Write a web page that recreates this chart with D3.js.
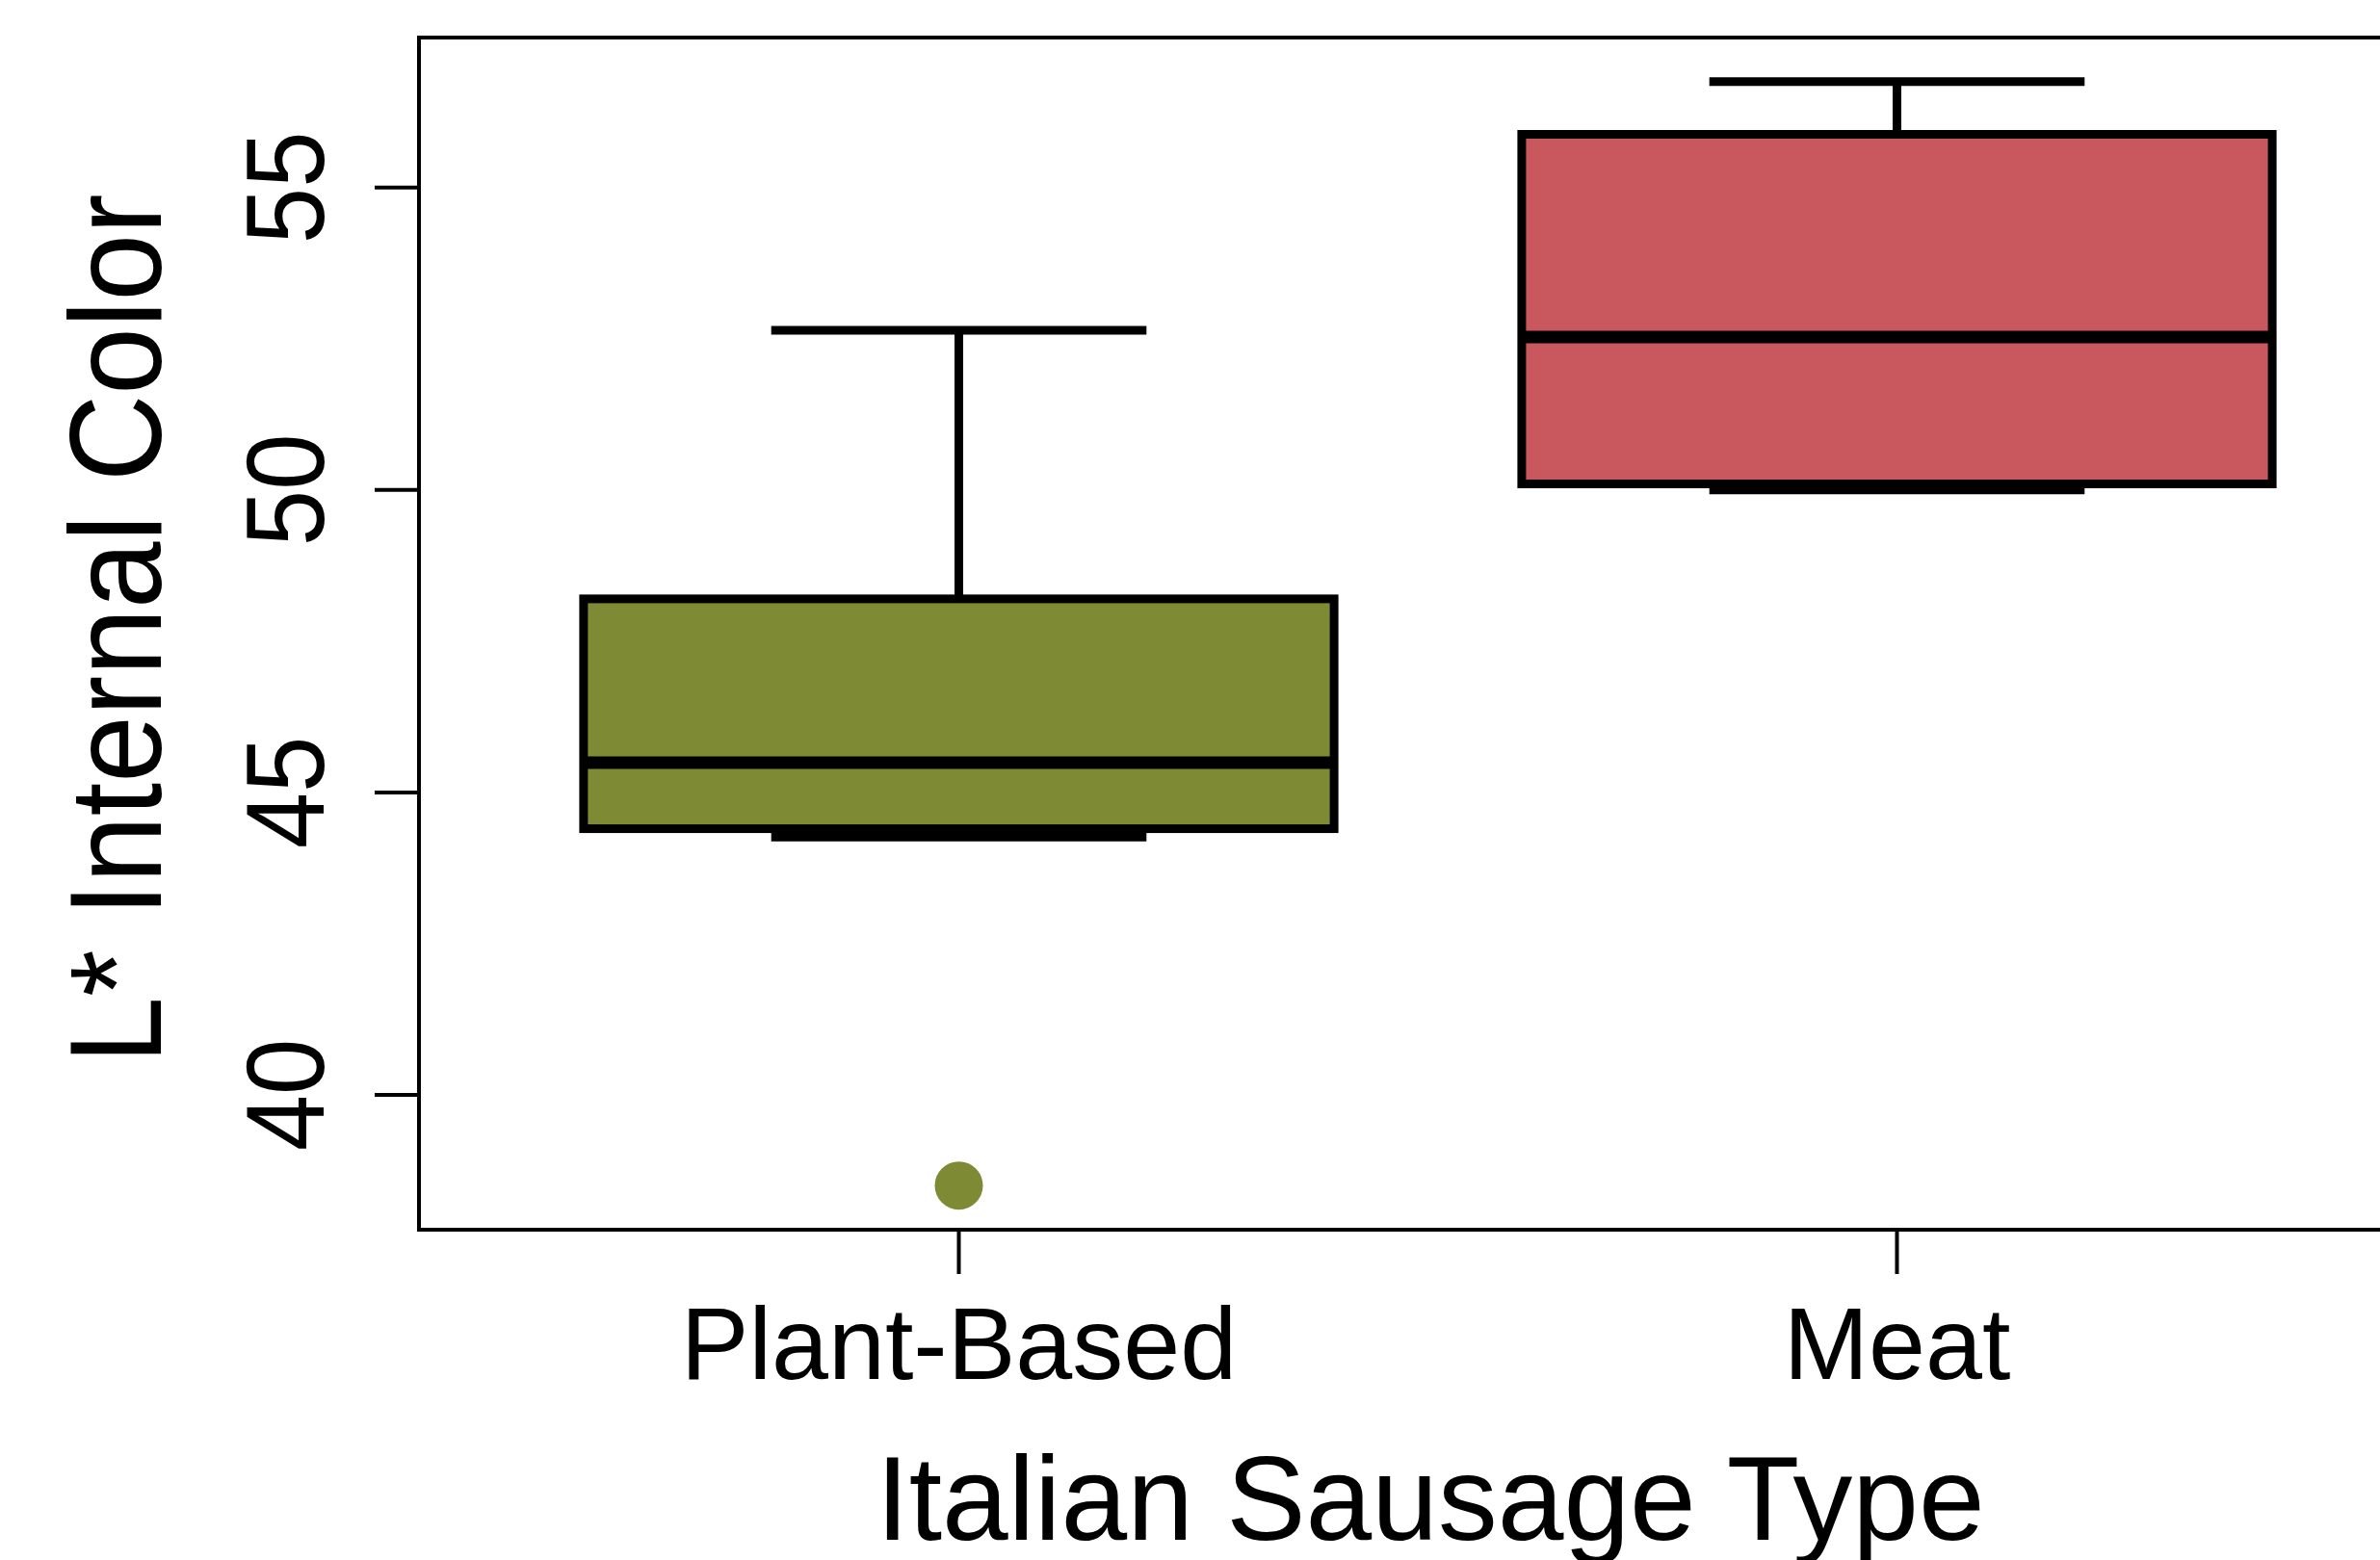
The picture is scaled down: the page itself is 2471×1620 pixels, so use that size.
<!DOCTYPE html>
<html>
<head>
<meta charset="utf-8">
<script src="https://cdn.jsdelivr.net/npm/d3@7"></script>
<style>
  html, body { margin: 0; padding: 0; background: #fff; }
  svg { display: block; }
  text { font-family: "Liberation Sans", Arial, sans-serif; fill: #000; }
</style>
</head>
<body>
<div id="main"></div>
<script>
// data
var categories = ["Plant-Based", "Meat"];
var lowerWhisker = [44.26, 50.0];
var q1 = [44.40, 50.10];
var medians = [45.49, 52.53];
var q3 = [48.20, 55.88];
var upperWhisker = [52.64, 56.75];
var outliers = [[38.5], []];
var yTicks = [40, 45, 50, 55];
var xTitle = "Italian Sausage Type";
var yTitle = "L* Internal Color";

var CONFIG = {
  width: 2471,
  height: 1620,
  plot: { left: 435, top: 39, right: 2535, bottom: 1277 },
  fills: ["#7F8B34", "#C8585E"],
  boxWex: 0.8,
  stapleWex: 0.5,
  lineW: 9,
  medW: 13,
  frameW: 4,
  tickLen: 46
};

var data = categories.map((c, i) => ({
  name: c,
  lo: lowerWhisker[i],
  q1: q1[i],
  med: medians[i],
  q3: q3[i],
  hi: upperWhisker[i],
  out: outliers[i],
  fill: CONFIG.fills[i]
}));

// R style axis range: data extremes + 4% on each side
var allVals = [];
data.forEach(d => { allVals.push(d.lo, d.hi); d.out.forEach(o => allVals.push(o)); });
var yMin = d3.min(allVals), yMax = d3.max(allVals);
var pad = (yMax - yMin) * 0.04;

var yScale = d3.scaleLinear()
  .domain([yMin - pad, yMax + pad])
  .range([CONFIG.plot.bottom, CONFIG.plot.top]);

// groups sit at 1..n, plot spans 0.42 .. n+0.58
var xScale = d3.scaleBand()
  .domain(categories)
  .range([508.5, 2456.5])
  .paddingInner(0)
  .paddingOuter(0);

var bw = xScale.bandwidth();
var cx = d => xScale(d.name) + bw / 2;

var svg = d3.select("#main")
  .append("svg")
  .attr("width", CONFIG.width)
  .attr("height", CONFIG.height);

svg.append("rect")
  .attr("width", CONFIG.width)
  .attr("height", CONFIG.height)
  .attr("fill", "#fff");

var boxes = svg.append("g").attr("id", "boxes");

// whiskers
boxes.selectAll("line.whisker-hi")
  .data(data)
  .enter().append("line")
  .attr("x1", cx).attr("x2", cx)
  .attr("y1", d => yScale(d.q3)).attr("y2", d => yScale(d.hi))
  .attr("stroke", "#000").attr("stroke-width", CONFIG.lineW);

boxes.selectAll("line.whisker-lo")
  .data(data)
  .enter().append("line")
  .attr("x1", cx).attr("x2", cx)
  .attr("y1", d => yScale(d.q1)).attr("y2", d => yScale(d.lo))
  .attr("stroke", "#000").attr("stroke-width", CONFIG.lineW);

// staples
var staple = bw * CONFIG.boxWex * CONFIG.stapleWex / 2;
["hi", "lo"].forEach(k => {
  boxes.selectAll("line.staple-" + k)
    .data(data)
    .enter().append("line")
    .attr("x1", d => cx(d) - staple).attr("x2", d => cx(d) + staple)
    .attr("y1", d => yScale(d[k])).attr("y2", d => yScale(d[k]))
    .attr("stroke", "#000").attr("stroke-width", CONFIG.lineW);
});

// boxes
var half = bw * CONFIG.boxWex / 2;
boxes.selectAll("rect.box")
  .data(data)
  .enter().append("rect")
  .classed("box", true)
  .attr("x", d => cx(d) - half)
  .attr("width", half * 2)
  .attr("y", d => yScale(d.q3))
  .attr("height", d => yScale(d.q1) - yScale(d.q3))
  .attr("fill", d => d.fill)
  .attr("stroke", "#000")
  .attr("stroke-width", CONFIG.lineW);

// medians
boxes.selectAll("line.median")
  .data(data)
  .enter().append("line")
  .attr("x1", d => cx(d) - half).attr("x2", d => cx(d) + half)
  .attr("y1", d => yScale(d.med)).attr("y2", d => yScale(d.med))
  .attr("stroke", "#000").attr("stroke-width", CONFIG.medW);

// outliers
var outPts = [];
data.forEach(d => d.out.forEach(v => outPts.push({ name: d.name, v: v, fill: d.fill })));
boxes.selectAll("circle.outlier")
  .data(outPts)
  .enter().append("circle")
  .attr("cx", cx)
  .attr("cy", d => yScale(d.v))
  .attr("r", 25)
  .attr("fill", d => d.fill);

// frame (right edge runs past the picture)
svg.append("rect")
  .attr("x", CONFIG.plot.left)
  .attr("y", CONFIG.plot.top)
  .attr("width", CONFIG.plot.right - CONFIG.plot.left)
  .attr("height", CONFIG.plot.bottom - CONFIG.plot.top)
  .attr("fill", "none")
  .attr("stroke", "#000")
  .attr("stroke-width", CONFIG.frameW);

// y axis
var yAxis = svg.append("g");
yAxis.selectAll("line")
  .data(yTicks)
  .enter().append("line")
  .attr("x1", CONFIG.plot.left - CONFIG.tickLen).attr("x2", CONFIG.plot.left)
  .attr("y1", d => yScale(d)).attr("y2", d => yScale(d))
  .attr("stroke", "#000").attr("stroke-width", CONFIG.frameW);

yAxis.selectAll("text")
  .data(yTicks)
  .enter().append("text")
  .attr("transform", d => "translate(336," + yScale(d) + ") rotate(-90) scale(1,1.1)")
  .attr("text-anchor", "middle")
  .style("font-size", "105px")
  .text(d => d);

// x axis
var xAxis = svg.append("g");
xAxis.selectAll("line")
  .data(data)
  .enter().append("line")
  .attr("x1", cx).attr("x2", cx)
  .attr("y1", CONFIG.plot.bottom).attr("y2", CONFIG.plot.bottom + CONFIG.tickLen)
  .attr("stroke", "#000").attr("stroke-width", CONFIG.frameW);

xAxis.selectAll("text")
  .data(data)
  .enter().append("text")
  .attr("x", cx)
  .attr("y", 1432)
  .attr("text-anchor", "middle")
  .style("font-size", "106px")
  .text(d => d.name);

// titles
svg.append("text")
  .attr("x", (CONFIG.plot.left + CONFIG.plot.right) / 2)
  .attr("y", 1599)
  .attr("text-anchor", "middle")
  .style("font-size", "123.5px")
  .text(xTitle);

svg.append("text")
  .attr("transform", "translate(167," + ((CONFIG.plot.top + CONFIG.plot.bottom) / 2 - 5) + ") rotate(-90) scale(1,1.08)")
  .attr("text-anchor", "middle")
  .style("font-size", "125px")
  .text(yTitle);
</script>
</body>
</html>
